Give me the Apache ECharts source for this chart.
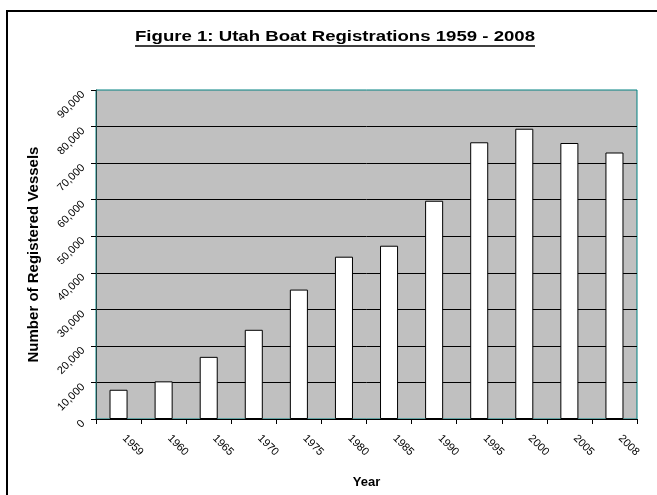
<!DOCTYPE html>
<html>
<head>
<meta charset="utf-8">
<script src="https://cdn.jsdelivr.net/npm/echarts@6/dist/echarts.min.js"></script>
<style>
    html, body { margin: 0; padding: 0; background: #fff; }
    #chart { width: 657px; height: 495px; }
</style>
</head>
<body>
<div id="chart"></div>
<script>
var titleText = 'Figure 1: Utah Boat Registrations 1959 - 2008';
var years = ['1959', '1960', '1965', '1970', '1975', '1980',
    '1985', '1990', '1995', '2000', '2005', '2008'];
var vessels = [8000, 10300, 17000, 24400, 35400, 44400,
    47400, 59700, 75700, 79400, 75500, 72900];
var yTicks = [0, 10000, 20000, 30000, 40000, 50000, 60000, 70000, 80000, 90000];

var font = '"Liberation Sans", Arial, sans-serif';

// title is stretched a bit sideways in the picture, so measure it to draw the underline
var stretch = 1.24;
var ctx = document.createElement('canvas').getContext('2d');
ctx.font = 'bold 15px "Liberation Sans"';
var titleW = ctx.measureText(titleText).width * stretch;
var titleX = 335;

var myChart = echarts.init(document.getElementById('chart'));

option = {
    animation: false,
    backgroundColor: '#fff',
    graphic: [
        {
            type: 'rect',
            z: -10,
            shape: { x: 7, y: 11, width: 700, height: 600 },
            style: { fill: 'none', stroke: '#000', lineWidth: 2 }
        },
        {
            type: 'text',
            x: titleX,
            y: 37,
            scaleX: stretch,
            style: {
                text: titleText,
                fontSize: 15,
                fontWeight: 'bold',
                fontFamily: font,
                fill: '#000',
                align: 'center',
                verticalAlign: 'middle'
            }
        },
        {
            type: 'line',
            shape: { x1: titleX - titleW / 2, y1: 46, x2: titleX + titleW / 2, y2: 46 },
            style: { stroke: '#000', lineWidth: 1.5 }
        }
    ],
    grid: {
        left: 96,
        right: 20,
        top: 90,
        bottom: 76,
        show: true,
        backgroundColor: '#c0c0c0',
        borderColor: '#008080',
        borderWidth: 1
    },
    xAxis: {
        type: 'category',
        data: years,
        name: 'Year',
        nameLocation: 'middle',
        nameGap: 57,
        nameTextStyle: {
            fontSize: 13,
            fontWeight: 'bold',
            fontFamily: font,
            color: '#000'
        },
        axisLine: { lineStyle: { color: '#000', width: 1 } },
        axisTick: { show: true, length: 5, lineStyle: { color: '#000' } },
        axisLabel: {
            interval: 0,
            rotate: -45,
            margin: 12,
            padding: [0, 0, 0, 8],
            fontSize: 11,
            fontFamily: font,
            color: '#000'
        }
    },
    yAxis: {
        type: 'value',
        min: yTicks[0],
        max: yTicks[yTicks.length - 1],
        interval: 10000,
        name: 'Number of Registered Vessels',
        nameLocation: 'middle',
        nameRotate: 90,
        nameGap: 55,
        nameTextStyle: {
            fontSize: 15,
            fontWeight: 'bold',
            fontFamily: font,
            color: '#000'
        },
        axisLine: { show: true, lineStyle: { color: '#204848', width: 1 } },
        axisTick: { show: true, length: 5, lineStyle: { color: '#000' } },
        splitLine: {
            show: true,
            showMaxLine: false,
            lineStyle: { color: '#000', width: 1 }
        },
        axisLabel: {
            rotate: 45,
            margin: 10,
            padding: [2, 4, 0, 0],
            fontSize: 11,
            fontFamily: font,
            color: '#000',
            formatter: function (v) {
                return v.toLocaleString('en-US');
            }
        }
    },
    series: [{
        name: 'Registered Vessels',
        type: 'bar',
        data: vessels,
        barWidth: '40%',
        itemStyle: {
            color: '#fff',
            borderColor: '#000',
            borderWidth: 1
        }
    }]
};
myChart.setOption(option);
</script>
</body>
</html>
